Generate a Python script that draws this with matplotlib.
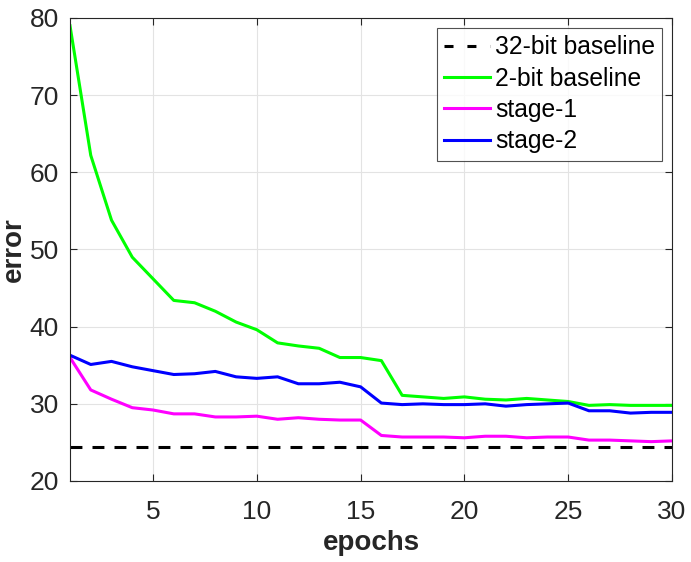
import matplotlib
matplotlib.use("Agg")
import matplotlib.pyplot as plt
import numpy as np

epochs = list(range(1, 31))
baseline_32 = 24.4
baseline_2bit = [79.0, 62.2, 53.8, 49.0, 46.2, 43.4, 43.1, 42.0, 40.6, 39.6,
                 37.9, 37.5, 37.2, 36.0, 36.0, 35.6, 31.1, 30.9, 30.7, 30.9,
                 30.6, 30.5, 30.7, 30.5, 30.3, 29.8, 29.9, 29.8, 29.8, 29.8]
stage1 = [36.0, 31.8, 30.6, 29.5, 29.2, 28.7, 28.7, 28.3, 28.3, 28.4,
          28.0, 28.2, 28.0, 27.9, 27.9, 25.9, 25.7, 25.7, 25.7, 25.6,
          25.8, 25.8, 25.6, 25.7, 25.7, 25.3, 25.3, 25.2, 25.1, 25.2]
stage2 = [36.3, 35.1, 35.5, 34.8, 34.3, 33.8, 33.9, 34.2, 33.5, 33.3,
          33.5, 32.6, 32.6, 32.8, 32.2, 30.1, 29.9, 30.0, 29.9, 29.9,
          30.0, 29.7, 29.9, 30.0, 30.1, 29.1, 29.1, 28.8, 28.9, 28.9]
labels = ["32-bit baseline", "2-bit baseline", "stage-1", "stage-2"]
xticks = [5, 10, 15, 20, 25, 30]
yticks = [20, 30, 40, 50, 60, 70, 80]

plt.rcParams['font.family'] = ['Liberation Sans', 'DejaVu Sans']

fig = plt.figure(figsize=(6.91, 5.62), dpi=100)
ax = fig.add_axes([70/691, 1 - 481/562, (672-70)/691, (481-18)/562])

lw = 2.2
ax.plot([epochs[0], epochs[-1]], [baseline_32, baseline_32], color='black',
        lw=lw, linestyle=(0, (3.9, 3.3)), label=labels[0])
ax.plot(epochs, baseline_2bit, color='#00ff00', lw=lw, label=labels[1])
ax.plot(epochs, stage1, color='#ff00ff', lw=lw, label=labels[2])
ax.plot(epochs, stage2, color='#0000ff', lw=lw, label=labels[3])

ax.set_xlim(1, 30)
ax.set_ylim(20, 80)
ax.set_xticks(xticks)
ax.set_yticks(yticks)
ax.grid(True, color='#e3e3e3', linewidth=0.8)
ax.set_axisbelow(True)
for s in ax.spines.values():
    s.set_color('#262626')
    s.set_linewidth(0.8)
ax.tick_params(direction='in', top=True, right=True, length=5, width=0.8,
               colors='#262626', labelsize=19, labelcolor='#262626')
ax.tick_params(axis='x', pad=13.5)
ax.tick_params(axis='y', pad=8)
ax.set_xlabel('epochs', fontsize=20, fontweight='bold', color='#262626', labelpad=4.5)
ax.set_ylabel('error', fontsize=20, fontweight='bold', color='#262626', labelpad=1.8)

leg = ax.legend(loc='upper right', fontsize=17.7, frameon=True, fancybox=False,
                edgecolor='#262626', handlelength=1.85, handletextpad=0.2,
                borderpad=0.3, labelspacing=0.3, borderaxespad=0.4)
leg.get_frame().set_linewidth(0.8)
leg.get_lines()[0].set_linestyle((0, (2.95, 4.55)))

fig.savefig('out.png', dpi=100)
